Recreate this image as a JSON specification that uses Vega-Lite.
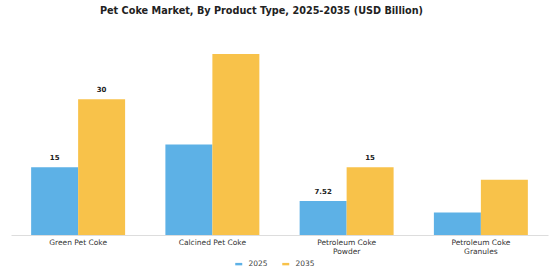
{
  "$schema": "https://vega.github.io/schema/vega-lite/v6.json",
  "autosize": {"type": "none"},
  "width": 537,
  "height": 199,
  "padding": {"left": 11, "top": 36, "right": 12, "bottom": 45},
  "background": "white",
  "config": {"view": {"stroke": null}},
  "title": {
    "text": "Pet Coke Market, By Product Type, 2025-2035 (USD Billion)",
    "font": "DejaVu Sans",
    "fontSize": 9.7,
    "fontWeight": "bold",
    "color": "#222222",
    "anchor": "middle",
    "dx": -18,
    "offset": 20
  },
  "data": {
    "values": [
      {"type": "Green Pet Coke", "year": "2025", "value": 15, "label": "15"},
      {"type": "Green Pet Coke", "year": "2035", "value": 30, "label": "30"},
      {"type": "Calcined Pet Coke", "year": "2025", "value": 20, "label": ""},
      {"type": "Calcined Pet Coke", "year": "2035", "value": 40, "label": ""},
      {"type": "Petroleum Coke Powder", "year": "2025", "value": 7.52, "label": "7.52"},
      {"type": "Petroleum Coke Powder", "year": "2035", "value": 15, "label": "15"},
      {"type": "Petroleum Coke Granules", "year": "2025", "value": 5, "label": ""},
      {"type": "Petroleum Coke Granules", "year": "2035", "value": 12.2, "label": ""}
    ]
  },
  "encoding": {
    "x": {
      "field": "type",
      "type": "nominal",
      "sort": null,
      "scale": {"paddingInner": 0.3, "paddingOuter": 0.15},
      "axis": {
        "title": null,
        "labelAngle": 0,
        "ticks": false,
        "domainColor": "#dddddd",
        "labelFont": "DejaVu Sans",
        "labelFontSize": 7.5,
        "labelColor": "#333333",
        "labelPadding": 3,
        "labelExpr": "datum.label == 'Petroleum Coke Powder' ? ['Petroleum Coke', 'Powder'] : datum.label == 'Petroleum Coke Granules' ? ['Petroleum Coke', 'Granules'] : datum.label"
      }
    },
    "xOffset": {"field": "year", "type": "nominal", "scale": {"paddingInner": 0}},
    "y": {
      "field": "value",
      "type": "quantitative",
      "scale": {"domain": [0, 44]},
      "axis": null
    }
  },
  "layer": [
    {
      "mark": {"type": "bar"},
      "encoding": {
        "color": {
          "field": "year",
          "type": "nominal",
          "scale": {"domain": ["2025", "2035"], "range": ["#5DB1E6", "#F8C24A"]},
          "legend": {
            "title": null,
            "orient": "none",
            "direction": "horizontal",
            "legendX": 224,
            "legendY": 224,
            "symbolType": "M-1,-0.35H1V0.35H-1Z",
            "symbolSize": 49,
            "symbolStrokeWidth": 0,
            "labelFont": "DejaVu Sans",
            "labelFontSize": 7.5,
            "labelColor": "#444444",
            "labelOffset": 6,
            "columnPadding": 14
          }
        }
      }
    },
    {
      "mark": {
        "type": "text",
        "dy": -6,
        "baseline": "bottom",
        "font": "DejaVu Sans",
        "fontSize": 7,
        "fontWeight": "bold",
        "color": "#222222"
      },
      "encoding": {"text": {"field": "label"}}
    }
  ]
}
